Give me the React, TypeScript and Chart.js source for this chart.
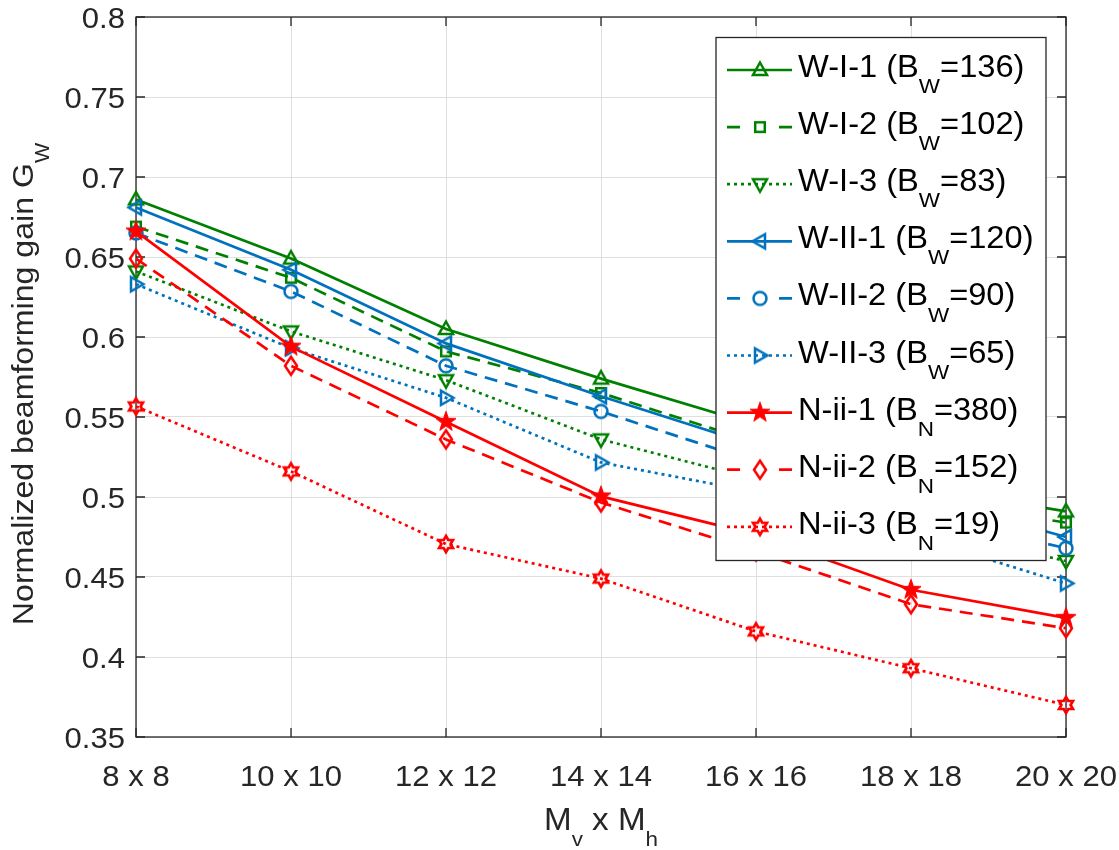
import React, { useEffect, useRef } from "react";
import { Chart, registerables } from "chart.js";

Chart.register(...registerables);

// ---- data ----
const categories = ["8 x 8", "10 x 10", "12 x 12", "14 x 14", "16 x 16", "18 x 18", "20 x 20"];
const yTicks = [0.35, 0.4, 0.45, 0.5, 0.55, 0.6, 0.65, 0.7, 0.75, 0.8];
const yTickLabels = ["0.35", "0.4", "0.45", "0.5", "0.55", "0.6", "0.65", "0.7", "0.75", "0.8"];

const wI1 = [0.686, 0.649, 0.605, 0.574, 0.545, 0.507, 0.491];
const wI2 = [0.669, 0.637, 0.591, 0.565, 0.534, 0.499, 0.484];
const wI3 = [0.641, 0.6035, 0.573, 0.536, 0.511, 0.482, 0.46];
const wII1 = [0.681, 0.642, 0.596, 0.563, 0.532, 0.502, 0.475];
const wII2 = [0.665, 0.6285, 0.582, 0.5535, 0.522, 0.49, 0.468];
const wII3 = [0.633, 0.593, 0.562, 0.5216, 0.503, 0.476, 0.446];
const nii1 = [0.666, 0.594, 0.547, 0.5004, 0.4765, 0.442, 0.4245];
const nii2 = [0.649, 0.582, 0.536, 0.4966, 0.466, 0.433, 0.418];
const nii3 = [0.5566, 0.516, 0.4706, 0.449, 0.416, 0.393, 0.37];

// legend text: [before subscript, subscript, after subscript]
const legendNames: [string, string, string][] = [
  ["W-I-1 (B", "W", "=136)"],
  ["W-I-2 (B", "W", "=102)"],
  ["W-I-3 (B", "W", "=83)"],
  ["W-II-1 (B", "W", "=120)"],
  ["W-II-2 (B", "W", "=90)"],
  ["W-II-3 (B", "W", "=65)"],
  ["N-ii-1 (B", "N", "=380)"],
  ["N-ii-2 (B", "N", "=152)"],
  ["N-ii-3 (B", "N", "=19)"],
];

const xTitle: [string, boolean][] = [["M", false], ["v", true], [" x M", false], ["h", true]];
const yTitle: [string, boolean][] = [["Normalized beamforming gain G", false], ["W", true]];

// ---- styles ----
const GREEN = "rgb(0,128,0)";
const BLUE = "rgb(0,114,189)";
const RED = "rgb(255,0,0)";
const AXIS = "#262626";
const GRID = "#dfdfdf";
const FONT = '"Liberation Sans", Arial, Helvetica, sans-serif';
const SX = 1.07;
const DASH = [13, 8];
const DOT = [3, 4];

type Style = "solid" | "dash" | "dot";
type Marker = "triUp" | "square" | "triDown" | "triLeft" | "circle" | "triRight" | "pentagram" | "diamond" | "hexagram";

const seriesData = [wI1, wI2, wI3, wII1, wII2, wII3, nii1, nii2, nii3];
const seriesColor = [GREEN, GREEN, GREEN, BLUE, BLUE, BLUE, RED, RED, RED];
const seriesStyle: Style[] = ["solid", "dash", "dot", "solid", "dash", "dot", "solid", "dash", "dot"];
const seriesMarker: Marker[] = ["triUp", "square", "triDown", "triLeft", "circle", "triRight", "pentagram", "diamond", "hexagram"];

function dashOf(s: Style): number[] {
  return s === "dash" ? DASH : s === "dot" ? DOT : [];
}

function makeMarker(kind: Marker, color: string): HTMLCanvasElement {
  const size = 28;
  const c = document.createElement("canvas");
  c.width = size;
  c.height = size;
  const g = c.getContext("2d")!;
  g.translate(size / 2, size / 2);
  g.strokeStyle = color;
  g.fillStyle = color;
  g.lineWidth = 2.5;
  g.lineJoin = "miter";
  const tri = (rot: number) => {
    g.save();
    g.rotate(rot);
    g.beginPath();
    g.moveTo(0, -7.5);
    g.lineTo(7, 5);
    g.lineTo(-7, 5);
    g.closePath();
    g.stroke();
    g.restore();
  };
  const star = (n: number, ro: number, ri: number) => {
    g.beginPath();
    for (let k = 0; k < n * 2; k++) {
      const r = k % 2 === 0 ? ro : ri;
      const a = -Math.PI / 2 + (k * Math.PI) / n;
      const px = r * Math.cos(a);
      const py = r * Math.sin(a);
      if (k === 0) g.moveTo(px, py);
      else g.lineTo(px, py);
    }
    g.closePath();
  };
  switch (kind) {
    case "triUp":
      tri(0);
      break;
    case "triDown":
      tri(Math.PI);
      break;
    case "triLeft":
      tri(-Math.PI / 2);
      break;
    case "triRight":
      tri(Math.PI / 2);
      break;
    case "square":
      g.strokeRect(-4.8, -4.8, 9.6, 9.6);
      break;
    case "circle":
      g.beginPath();
      g.arc(0, 0, 6.5, 0, Math.PI * 2);
      g.stroke();
      break;
    case "diamond":
      g.beginPath();
      g.moveTo(0, -9);
      g.lineTo(6, 0);
      g.lineTo(0, 9);
      g.lineTo(-6, 0);
      g.closePath();
      g.stroke();
      break;
    case "pentagram":
      star(5, 10.5, 4.2);
      g.fill();
      g.lineWidth = 1;
      g.stroke();
      break;
    case "hexagram":
      star(6, 8, 4.6);
      g.lineWidth = 2.7;
      g.stroke();
      break;
  }
  return c;
}

type Part = { t: string; sub: boolean };

function drawRich(
  ctx: CanvasRenderingContext2D,
  parts: Part[],
  x: number,
  y: number,
  align: "left" | "center" | "right",
  size: number,
  color: string,
  rot = 0
) {
  const subSize = Math.round(size * 0.68);
  const subDy = size * 0.53;
  ctx.save();
  ctx.translate(x, y);
  if (rot) ctx.rotate(rot);
  ctx.scale(SX, 1);
  ctx.textAlign = "left";
  ctx.textBaseline = "alphabetic";
  ctx.fillStyle = color;
  const widths = parts.map((p) => {
    ctx.font = `${p.sub ? subSize : size}px ${FONT}`;
    return ctx.measureText(p.t).width;
  });
  const total = widths.reduce((a, b) => a + b, 0);
  let cx = align === "left" ? 0 : align === "center" ? -total / 2 : -total;
  parts.forEach((p, i) => {
    ctx.font = `${p.sub ? subSize : size}px ${FONT}`;
    ctx.fillText(p.t, cx, p.sub ? subDy : 0);
    cx += widths[i];
  });
  ctx.restore();
}

const toParts = (arr: [string, boolean][]): Part[] => arr.map(([t, sub]) => ({ t, sub }));

export default function App() {
  const ref = useRef<HTMLCanvasElement | null>(null);

  useEffect(() => {
    document.body.style.margin = "0";
    const canvas = ref.current;
    if (!canvas) return;

    const markers = seriesMarker.map((m, i) => makeMarker(m, seriesColor[i]));

    const datasets = seriesData.map((d, i) => ({
      label: legendNames[i].join(""),
      data: d,
      borderColor: seriesColor[i],
      backgroundColor: seriesColor[i],
      borderWidth: 2.7,
      borderDash: dashOf(seriesStyle[i]),
      borderCapStyle: "butt" as const,
      pointStyle: markers[i],
      pointRadius: 8,
      fill: false,
      tension: 0,
      clip: false as const,
      order: seriesData.length - i,
    }));

    const framePlugin = {
      id: "frame",
      beforeDatasetsDraw(chart: any) {
        const ctx: CanvasRenderingContext2D = chart.ctx;
        const { left, right, top, bottom } = chart.chartArea;
        const xs = chart.scales.x;
        const ys = chart.scales.y;
        ctx.save();
        ctx.strokeStyle = AXIS;
        ctx.lineWidth = 1.3;
        ctx.strokeRect(left, top, right - left, bottom - top);
        const tl = 9;
        ctx.beginPath();
        categories.forEach((_, i) => {
          const px = xs.getPixelForValue(i);
          ctx.moveTo(px, bottom);
          ctx.lineTo(px, bottom - tl);
          ctx.moveTo(px, top);
          ctx.lineTo(px, top + tl);
        });
        yTicks.forEach((v) => {
          const py = ys.getPixelForValue(v);
          ctx.moveTo(left, py);
          ctx.lineTo(left + tl, py);
          ctx.moveTo(right, py);
          ctx.lineTo(right - tl, py);
        });
        ctx.stroke();
        ctx.restore();

        categories.forEach((c, i) => {
          drawRich(ctx, [{ t: c, sub: false }], xs.getPixelForValue(i), bottom + 49, "center", 29, AXIS);
        });
        yTicks.forEach((v, i) => {
          drawRich(ctx, [{ t: yTickLabels[i], sub: false }], left - 11, ys.getPixelForValue(v) + 10.5, "right", 29, AXIS);
        });
        drawRich(ctx, toParts(xTitle), (left + right) / 2, bottom + 93, "center", 31, AXIS);
        drawRich(ctx, toParts(yTitle), 33, 384, "center", 30, AXIS, -Math.PI / 2);
      },
      afterDatasetsDraw(chart: any) {
        const ctx: CanvasRenderingContext2D = chart.ctx;
        const bx = 716;
        const by = 37.5;
        const bw = 330;
        const bh = 523;
        ctx.save();
        ctx.fillStyle = "#ffffff";
        ctx.fillRect(bx, by, bw, bh);
        ctx.strokeStyle = AXIS;
        ctx.lineWidth = 1.3;
        ctx.strokeRect(bx, by, bw, bh);
        ctx.restore();

        legendNames.forEach((name, i) => {
          const cy = 70 + i * 57.1;
          const x0 = 727;
          const x1 = 792;
          const mx = 760;
          ctx.save();
          ctx.strokeStyle = seriesColor[i];
          ctx.lineWidth = 2.7;
          ctx.lineCap = "butt";
          ctx.beginPath();
          if (seriesStyle[i] === "dash") {
            ctx.moveTo(x0, cy);
            ctx.lineTo(x0 + 13, cy);
            ctx.moveTo(x1 - 13, cy);
            ctx.lineTo(x1, cy);
          } else {
            ctx.setLineDash(dashOf(seriesStyle[i]));
            ctx.moveTo(x0, cy);
            ctx.lineTo(x1, cy);
          }
          ctx.stroke();
          ctx.restore();
          const m = markers[i];
          ctx.drawImage(m, mx - m.width / 2, cy - m.height / 2);
          drawRich(
            ctx,
            [
              { t: name[0], sub: false },
              { t: name[1], sub: true },
              { t: name[2], sub: false },
            ],
            798,
            cy + 7,
            "left",
            30.5,
            "#000000"
          );
        });
      },
    };

    const chart = new Chart(canvas, {
      type: "line",
      data: { labels: categories, datasets: datasets as any },
      options: {
        animation: false,
        responsive: false,
        devicePixelRatio: 1,
        layout: { padding: { top: 17, right: 53, left: 0, bottom: 0 } },
        plugins: { legend: { display: false }, tooltip: { enabled: false } },
        scales: {
          x: {
            type: "category",
            offset: false,
            grid: { color: GRID, lineWidth: 1, drawTicks: false },
            border: { display: false },
            ticks: { display: false },
            afterFit: (s: any) => {
              s.height = 113;
            },
          },
          y: {
            type: "linear",
            min: 0.35,
            max: 0.8,
            grid: { color: GRID, lineWidth: 1, drawTicks: false },
            border: { display: false },
            ticks: { display: false },
            afterBuildTicks: (s: any) => {
              s.ticks = yTicks.map((v) => ({ value: v }));
            },
            afterFit: (s: any) => {
              s.width = 136;
            },
          },
        },
      },
      plugins: [framePlugin],
    });

    return () => chart.destroy();
  }, []);

  return <canvas ref={ref} width={1119} height={850} style={{ display: "block" }} />;
}
